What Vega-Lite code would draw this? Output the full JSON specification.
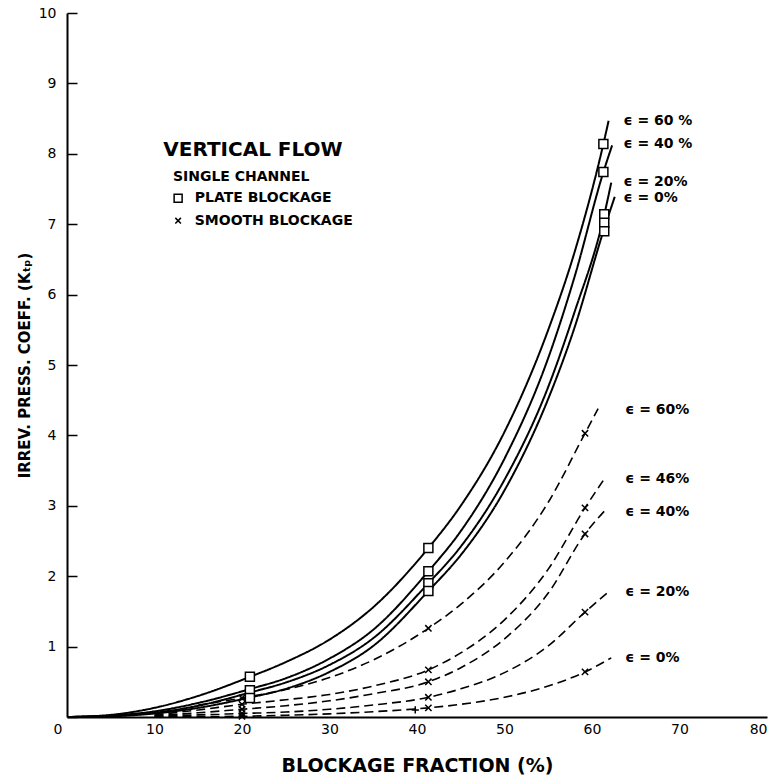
{
  "$schema": "https://vega.github.io/schema/vega-lite/v6.json",
  "width": 700,
  "height": 704,
  "autosize": "none",
  "padding": {"left": 67, "top": 13, "right": 8, "bottom": 64},
  "background": "white",
  "config": {
    "view": {"stroke": null},
    "font": "DejaVu Sans",
    "axis": {"labelFont": "DejaVu Sans", "titleFont": "DejaVu Sans", "labelColor": "black", "titleColor": "black", "domainColor": "black", "tickColor": "black", "grid": false, "titleFontWeight": "bold"}
  },
  "datasets": {
    "curves": [
      {"curve": "P60", "blockage": "plate", "x": 0, "y": 0}, {"curve": "P60", "blockage": "plate", "x": 5, "y": 0.03}, {"curve": "P60", "blockage": "plate", "x": 10, "y": 0.13}, {"curve": "P60", "blockage": "plate", "x": 15, "y": 0.3}, {"curve": "P60", "blockage": "plate", "x": 20.9, "y": 0.57}, {"curve": "P60", "blockage": "plate", "x": 25, "y": 0.78}, {"curve": "P60", "blockage": "plate", "x": 30, "y": 1.1}, {"curve": "P60", "blockage": "plate", "x": 35, "y": 1.56}, {"curve": "P60", "blockage": "plate", "x": 41.3, "y": 2.4}, {"curve": "P60", "blockage": "plate", "x": 45, "y": 3.0}, {"curve": "P60", "blockage": "plate", "x": 50, "y": 4.05}, {"curve": "P60", "blockage": "plate", "x": 55, "y": 5.5}, {"curve": "P60", "blockage": "plate", "x": 58, "y": 6.6}, {"curve": "P60", "blockage": "plate", "x": 61.3, "y": 8.14}, {"curve": "P60", "blockage": "plate", "x": 61.9, "y": 8.47},
      {"curve": "P40", "blockage": "plate", "x": 0, "y": 0}, {"curve": "P40", "blockage": "plate", "x": 5, "y": 0.02}, {"curve": "P40", "blockage": "plate", "x": 10, "y": 0.08}, {"curve": "P40", "blockage": "plate", "x": 15, "y": 0.2}, {"curve": "P40", "blockage": "plate", "x": 21, "y": 0.4}, {"curve": "P40", "blockage": "plate", "x": 25, "y": 0.55}, {"curve": "P40", "blockage": "plate", "x": 30, "y": 0.83}, {"curve": "P40", "blockage": "plate", "x": 35, "y": 1.24}, {"curve": "P40", "blockage": "plate", "x": 41.3, "y": 2.07}, {"curve": "P40", "blockage": "plate", "x": 45, "y": 2.64}, {"curve": "P40", "blockage": "plate", "x": 50, "y": 3.67}, {"curve": "P40", "blockage": "plate", "x": 55, "y": 5.1}, {"curve": "P40", "blockage": "plate", "x": 58, "y": 6.25}, {"curve": "P40", "blockage": "plate", "x": 61.3, "y": 7.74}, {"curve": "P40", "blockage": "plate", "x": 62.3, "y": 8.12},
      {"curve": "P20", "blockage": "plate", "x": 0, "y": 0}, {"curve": "P20", "blockage": "plate", "x": 5, "y": 0.015}, {"curve": "P20", "blockage": "plate", "x": 10, "y": 0.06}, {"curve": "P20", "blockage": "plate", "x": 15, "y": 0.16}, {"curve": "P20", "blockage": "plate", "x": 21, "y": 0.35}, {"curve": "P20", "blockage": "plate", "x": 25, "y": 0.49}, {"curve": "P20", "blockage": "plate", "x": 30, "y": 0.74}, {"curve": "P20", "blockage": "plate", "x": 35, "y": 1.12}, {"curve": "P20", "blockage": "plate", "x": 41.3, "y": 1.9}, {"curve": "P20", "blockage": "plate", "x": 45, "y": 2.42}, {"curve": "P20", "blockage": "plate", "x": 50, "y": 3.37}, {"curve": "P20", "blockage": "plate", "x": 55, "y": 4.69}, {"curve": "P20", "blockage": "plate", "x": 58, "y": 5.75}, {"curve": "P20", "blockage": "plate", "x": 61.3, "y": 7.08}, {"curve": "P20", "blockage": "plate", "x": 62.2, "y": 7.59},
      {"curve": "P0", "blockage": "plate", "x": 0, "y": 0}, {"curve": "P0", "blockage": "plate", "x": 5, "y": 0.01}, {"curve": "P0", "blockage": "plate", "x": 10, "y": 0.05}, {"curve": "P0", "blockage": "plate", "x": 15, "y": 0.13}, {"curve": "P0", "blockage": "plate", "x": 21, "y": 0.28}, {"curve": "P0", "blockage": "plate", "x": 25, "y": 0.4}, {"curve": "P0", "blockage": "plate", "x": 30, "y": 0.64}, {"curve": "P0", "blockage": "plate", "x": 35, "y": 1.01}, {"curve": "P0", "blockage": "plate", "x": 41.3, "y": 1.79}, {"curve": "P0", "blockage": "plate", "x": 45, "y": 2.3}, {"curve": "P0", "blockage": "plate", "x": 50, "y": 3.22}, {"curve": "P0", "blockage": "plate", "x": 55, "y": 4.52}, {"curve": "P0", "blockage": "plate", "x": 58, "y": 5.53}, {"curve": "P0", "blockage": "plate", "x": 61.3, "y": 6.9}, {"curve": "P0", "blockage": "plate", "x": 62.6, "y": 7.39},
      {"curve": "S60", "blockage": "smooth", "x": 15, "y": 0.17}, {"curve": "S60", "blockage": "smooth", "x": 20, "y": 0.27}, {"curve": "S60", "blockage": "smooth", "x": 25, "y": 0.39}, {"curve": "S60", "blockage": "smooth", "x": 30, "y": 0.56}, {"curve": "S60", "blockage": "smooth", "x": 35, "y": 0.81}, {"curve": "S60", "blockage": "smooth", "x": 41.3, "y": 1.26}, {"curve": "S60", "blockage": "smooth", "x": 45, "y": 1.6}, {"curve": "S60", "blockage": "smooth", "x": 50, "y": 2.2}, {"curve": "S60", "blockage": "smooth", "x": 55, "y": 3.05}, {"curve": "S60", "blockage": "smooth", "x": 59.2, "y": 4.03}, {"curve": "S60", "blockage": "smooth", "x": 60.7, "y": 4.38},
      {"curve": "S46", "blockage": "smooth", "x": 10, "y": 0.03}, {"curve": "S46", "blockage": "smooth", "x": 15, "y": 0.1}, {"curve": "S46", "blockage": "smooth", "x": 20, "y": 0.18}, {"curve": "S46", "blockage": "smooth", "x": 25, "y": 0.245}, {"curve": "S46", "blockage": "smooth", "x": 30, "y": 0.32}, {"curve": "S46", "blockage": "smooth", "x": 35, "y": 0.44}, {"curve": "S46", "blockage": "smooth", "x": 41.3, "y": 0.67}, {"curve": "S46", "blockage": "smooth", "x": 45, "y": 0.91}, {"curve": "S46", "blockage": "smooth", "x": 50, "y": 1.38}, {"curve": "S46", "blockage": "smooth", "x": 55, "y": 2.1}, {"curve": "S46", "blockage": "smooth", "x": 59.2, "y": 2.97}, {"curve": "S46", "blockage": "smooth", "x": 61.4, "y": 3.38},
      {"curve": "S40", "blockage": "smooth", "x": 10, "y": 0.02}, {"curve": "S40", "blockage": "smooth", "x": 15, "y": 0.06}, {"curve": "S40", "blockage": "smooth", "x": 20, "y": 0.11}, {"curve": "S40", "blockage": "smooth", "x": 25, "y": 0.16}, {"curve": "S40", "blockage": "smooth", "x": 30, "y": 0.23}, {"curve": "S40", "blockage": "smooth", "x": 35, "y": 0.33}, {"curve": "S40", "blockage": "smooth", "x": 41.3, "y": 0.5}, {"curve": "S40", "blockage": "smooth", "x": 45, "y": 0.7}, {"curve": "S40", "blockage": "smooth", "x": 50, "y": 1.11}, {"curve": "S40", "blockage": "smooth", "x": 55, "y": 1.76}, {"curve": "S40", "blockage": "smooth", "x": 59.2, "y": 2.6}, {"curve": "S40", "blockage": "smooth", "x": 61.6, "y": 2.95},
      {"curve": "S20", "blockage": "smooth", "x": 10, "y": 0.01}, {"curve": "S20", "blockage": "smooth", "x": 15, "y": 0.03}, {"curve": "S20", "blockage": "smooth", "x": 20, "y": 0.05}, {"curve": "S20", "blockage": "smooth", "x": 25, "y": 0.07}, {"curve": "S20", "blockage": "smooth", "x": 30, "y": 0.11}, {"curve": "S20", "blockage": "smooth", "x": 35, "y": 0.17}, {"curve": "S20", "blockage": "smooth", "x": 41.3, "y": 0.28}, {"curve": "S20", "blockage": "smooth", "x": 45, "y": 0.4}, {"curve": "S20", "blockage": "smooth", "x": 50, "y": 0.63}, {"curve": "S20", "blockage": "smooth", "x": 55, "y": 1.01}, {"curve": "S20", "blockage": "smooth", "x": 59.2, "y": 1.49}, {"curve": "S20", "blockage": "smooth", "x": 61.9, "y": 1.78},
      {"curve": "S0", "blockage": "smooth", "x": 10, "y": 0.0}, {"curve": "S0", "blockage": "smooth", "x": 15, "y": 0.005}, {"curve": "S0", "blockage": "smooth", "x": 20, "y": 0.01}, {"curve": "S0", "blockage": "smooth", "x": 25, "y": 0.025}, {"curve": "S0", "blockage": "smooth", "x": 30, "y": 0.045}, {"curve": "S0", "blockage": "smooth", "x": 35, "y": 0.075}, {"curve": "S0", "blockage": "smooth", "x": 41.3, "y": 0.13}, {"curve": "S0", "blockage": "smooth", "x": 45, "y": 0.18}, {"curve": "S0", "blockage": "smooth", "x": 50, "y": 0.28}, {"curve": "S0", "blockage": "smooth", "x": 55, "y": 0.44}, {"curve": "S0", "blockage": "smooth", "x": 59.2, "y": 0.64}, {"curve": "S0", "blockage": "smooth", "x": 62.2, "y": 0.84}
    ],
    "points": [
      {"marker": "PLATE BLOCKAGE", "x": 20.9, "y": 0.57}, {"marker": "PLATE BLOCKAGE", "x": 20.9, "y": 0.38}, {"marker": "PLATE BLOCKAGE", "x": 20.9, "y": 0.27},
      {"marker": "PLATE BLOCKAGE", "x": 41.3, "y": 2.4}, {"marker": "PLATE BLOCKAGE", "x": 41.3, "y": 2.07}, {"marker": "PLATE BLOCKAGE", "x": 41.3, "y": 1.9}, {"marker": "PLATE BLOCKAGE", "x": 41.3, "y": 1.79},
      {"marker": "PLATE BLOCKAGE", "x": 61.3, "y": 8.14}, {"marker": "PLATE BLOCKAGE", "x": 61.3, "y": 7.74}, {"marker": "PLATE BLOCKAGE", "x": 61.4, "y": 7.14}, {"marker": "PLATE BLOCKAGE", "x": 61.4, "y": 7.02}, {"marker": "PLATE BLOCKAGE", "x": 61.4, "y": 6.9},
      {"marker": "SMOOTH BLOCKAGE", "x": 20, "y": 0.27}, {"marker": "SMOOTH BLOCKAGE", "x": 20, "y": 0.18}, {"marker": "SMOOTH BLOCKAGE", "x": 20, "y": 0.11}, {"marker": "SMOOTH BLOCKAGE", "x": 20, "y": 0.05}, {"marker": "SMOOTH BLOCKAGE", "x": 20, "y": 0.01},
      {"marker": "SMOOTH BLOCKAGE", "x": 41.3, "y": 1.26}, {"marker": "SMOOTH BLOCKAGE", "x": 41.3, "y": 0.67}, {"marker": "SMOOTH BLOCKAGE", "x": 41.3, "y": 0.5}, {"marker": "SMOOTH BLOCKAGE", "x": 41.3, "y": 0.28}, {"marker": "SMOOTH BLOCKAGE", "x": 41.3, "y": 0.13},
      {"marker": "SMOOTH BLOCKAGE", "x": 59.2, "y": 4.03}, {"marker": "SMOOTH BLOCKAGE", "x": 59.2, "y": 2.97}, {"marker": "SMOOTH BLOCKAGE", "x": 59.2, "y": 2.6}, {"marker": "SMOOTH BLOCKAGE", "x": 59.2, "y": 1.49}, {"marker": "SMOOTH BLOCKAGE", "x": 59.2, "y": 0.64},
      {"marker": "OTHER", "x": 39.8, "y": 0.1}
    ],
    "legend": [
      {"marker": "PLATE BLOCKAGE", "x": 12.7, "y": 7.37, "tx": 14.6},
      {"marker": "SMOOTH BLOCKAGE", "x": 12.7, "y": 7.05, "tx": 14.6}
    ],
    "labels": [
      {"label": "ϵ = 60 %", "x": 63.6, "y": 8.47},
      {"label": "ϵ = 40 %", "x": 63.6, "y": 8.14},
      {"label": "ϵ = 20%", "x": 63.6, "y": 7.6},
      {"label": "ϵ = 0%", "x": 63.6, "y": 7.37},
      {"label": "ϵ = 60%", "x": 63.8, "y": 4.36},
      {"label": "ϵ = 46%", "x": 63.8, "y": 3.38},
      {"label": "ϵ = 40%", "x": 63.8, "y": 2.91},
      {"label": "ϵ = 20%", "x": 63.8, "y": 1.78},
      {"label": "ϵ = 0%", "x": 63.8, "y": 0.84},
      {"label": "SINGLE CHANNEL", "x": 12.1, "y": 7.67}
    ],
    "heading": [
      {"label": "VERTICAL FLOW", "x": 11.0, "y": 8.05}
    ]
  },
  "layer": [
    {
      "data": {"name": "curves"},
      "mark": {"type": "line", "interpolate": "monotone", "color": "black", "clip": true},
      "encoding": {
        "x": {"field": "x", "type": "quantitative", "scale": {"domain": [0, 80], "nice": false},
          "axis": {"title": "BLOCKAGE FRACTION (%)", "values": [0, 10, 20, 30, 40, 50, 60, 70, 80], "format": "d", "ticks": false, "domainWidth": 2, "labelFontSize": 14, "labelPadding": 5, "labelOffset": {"condition": {"test": "datum.value == 0", "value": -14}, "value": 0}, "titleFontSize": 19, "titlePadding": 20}},
        "y": {"field": "y", "type": "quantitative", "scale": {"domain": [0, 10], "nice": false},
          "axis": {"title": "IRREV. PRESS. COEFF. (Kₜₚ)", "values": [0, 1, 2, 3, 4, 5, 6, 7, 8, 9, 10], "format": "d", "labelExpr": "datum.value == 0 ? '' : datum.label", "tickSize": -10, "tickWidth": 1.5, "domainWidth": 2, "labelFontSize": 14, "labelPadding": 21, "titleFontSize": 15, "titlePadding": 6}},
        "detail": {"field": "curve"},
        "strokeDash": {"field": "blockage", "type": "nominal", "scale": {"domain": ["plate", "smooth"], "range": [[1, 0], [9, 5]]}, "legend": null},
        "strokeWidth": {"field": "blockage", "type": "nominal", "scale": {"domain": ["plate", "smooth"], "range": [2, 1.6]}, "legend": null}
      }
    },
    {
      "data": {"name": "points"},
      "mark": {"type": "point", "fill": "white", "stroke": "black", "strokeWidth": 1.5, "opacity": 1, "size": 81},
      "encoding": {
        "x": {"field": "x", "type": "quantitative"},
        "y": {"field": "y", "type": "quantitative"},
        "shape": {"field": "marker", "type": "nominal",
          "scale": {"domain": ["PLATE BLOCKAGE", "SMOOTH BLOCKAGE", "OTHER"], "range": ["square", "M-0.7,-0.7L0.7,0.7M0.7,-0.7L-0.7,0.7", "M0,-0.8L0,0.8M-0.8,0L0.8,0"]},
          "legend": null}
      }
    },
    {
      "data": {"name": "legend"},
      "mark": {"type": "point", "fill": "white", "stroke": "black", "strokeWidth": 1.5, "opacity": 1, "size": 64},
      "encoding": {
        "x": {"field": "x", "type": "quantitative"},
        "y": {"field": "y", "type": "quantitative"},
        "shape": {"field": "marker", "type": "nominal", "legend": null}
      }
    },
    {
      "data": {"name": "legend"},
      "mark": {"type": "text", "align": "left", "baseline": "middle", "fontSize": 14, "fontWeight": "bold", "font": "DejaVu Sans", "color": "black"},
      "encoding": {
        "x": {"field": "tx", "type": "quantitative"},
        "y": {"field": "y", "type": "quantitative"},
        "text": {"field": "marker"}
      }
    },
    {
      "data": {"name": "labels"},
      "mark": {"type": "text", "align": "left", "baseline": "middle", "fontSize": 14, "fontWeight": "bold", "font": "DejaVu Sans", "color": "black", "clip": false},
      "encoding": {
        "x": {"field": "x", "type": "quantitative"},
        "y": {"field": "y", "type": "quantitative"},
        "text": {"field": "label"}
      }
    },
    {
      "data": {"name": "heading"},
      "mark": {"type": "text", "align": "left", "baseline": "middle", "fontSize": 20, "fontWeight": "bold", "font": "DejaVu Sans", "color": "black"},
      "encoding": {
        "x": {"field": "x", "type": "quantitative"},
        "y": {"field": "y", "type": "quantitative"},
        "text": {"field": "label"}
      }
    }
  ]
}
